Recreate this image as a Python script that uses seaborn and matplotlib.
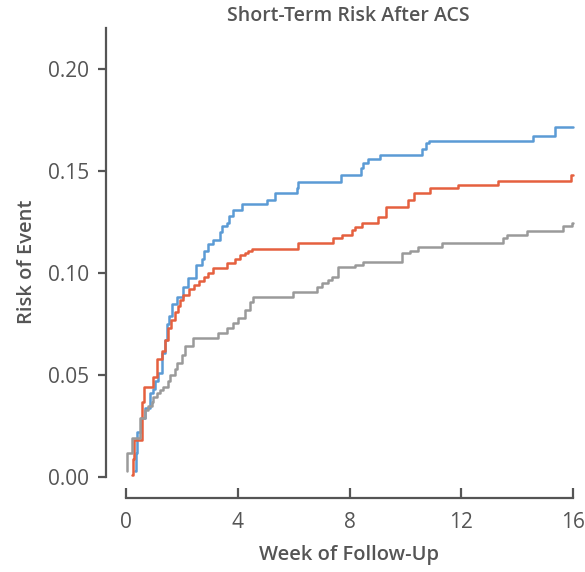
import numpy as np
import pandas as pd
import matplotlib
matplotlib.use("Agg")
import matplotlib.pyplot as plt
import seaborn as sns

# ---- data ----
blue_weeks = [0.32, 0.34, 0.40, 0.52, 0.68, 0.86, 0.97, 1.04, 1.14, 1.28, 1.30, 1.40, 1.46, 1.54,
              1.65, 1.83, 2.05, 2.22, 2.50, 2.72, 2.80, 2.93, 3.10, 3.36, 3.43, 3.61, 3.68, 3.83,
              4.15, 5.05, 5.33, 6.13, 6.16, 7.70, 8.40, 8.50, 8.66, 9.09, 10.60, 10.75, 10.85,
              14.57, 15.35, 16.0]
blue_risk = [0.003, 0.012, 0.022, 0.029, 0.034, 0.041, 0.043, 0.047, 0.051, 0.056, 0.061, 0.067,
             0.075, 0.079, 0.085, 0.088, 0.093, 0.0975, 0.104, 0.107, 0.111, 0.114, 0.116, 0.120,
             0.123, 0.1245, 0.128, 0.131, 0.134, 0.136, 0.139, 0.1415, 0.1446, 0.148, 0.1515,
             0.154, 0.156, 0.158, 0.161, 0.1635, 0.1645, 0.167, 0.1716, 0.1716]

red_weeks = [0.20, 0.25, 0.30, 0.56, 0.64, 0.97, 1.11, 1.30, 1.40, 1.50, 1.62, 1.75, 1.86, 1.93,
             2.05, 2.25, 2.43, 2.62, 2.80, 2.93, 3.11, 3.61, 3.90, 4.08, 4.26, 4.37, 4.50, 6.16,
             7.41, 7.73, 8.09, 8.20, 8.45, 9.02, 9.30, 10.10, 10.30, 10.88, 11.88, 13.31, 15.93,
             16.0]
red_risk = [0.001, 0.009, 0.018, 0.037, 0.044, 0.049, 0.058, 0.062, 0.067, 0.073, 0.077, 0.081,
            0.084, 0.087, 0.089, 0.092, 0.094, 0.096, 0.098, 0.100, 0.1025, 0.105, 0.107, 0.109,
            0.110, 0.111, 0.112, 0.1147, 0.117, 0.1186, 0.121, 0.1225, 0.1245, 0.1276, 0.1325,
            0.1358, 0.139, 0.1417, 0.143, 0.145, 0.148, 0.148]

gray_weeks = [0.04, 0.05, 0.21, 0.50, 0.68, 0.79, 0.93, 0.97, 1.11, 1.22, 1.32, 1.50, 1.57, 1.75,
              1.83, 2.00, 2.11, 2.40, 3.29, 3.61, 3.83, 4.00, 4.26, 4.44, 4.55, 5.99, 6.84, 7.00,
              7.23, 7.37, 7.59, 8.20, 8.48, 9.88, 10.16, 10.45, 11.31, 13.49, 13.64, 14.35, 15.64,
              15.97, 16.0]
gray_risk = [0.003, 0.012, 0.019, 0.029, 0.033, 0.035, 0.037, 0.039, 0.041, 0.0425, 0.044, 0.047,
             0.050, 0.053, 0.056, 0.060, 0.064, 0.068, 0.0706, 0.073, 0.0755, 0.078, 0.082, 0.086,
             0.088, 0.0907, 0.093, 0.095, 0.0966, 0.098, 0.103, 0.104, 0.1054, 0.110, 0.111,
             0.1127, 0.1147, 0.117, 0.1186, 0.1206, 0.123, 0.1245, 0.1245]

groups = ["Group 1", "Group 2", "Group 3"]
colors = ["#5B9BD5", "#E5603F", "#9A9A9A"]
x_ticks = [0, 4, 8, 12, 16]
y_ticks = [0.00, 0.05, 0.10, 0.15, 0.20]
y_tick_labels = ["0.00", "0.05", "0.10", "0.15", "0.20"]

df = pd.concat([
    pd.DataFrame({"week": blue_weeks, "risk": blue_risk, "group": groups[0]}),
    pd.DataFrame({"week": red_weeks, "risk": red_risk, "group": groups[1]}),
    pd.DataFrame({"week": gray_weeks, "risk": gray_risk, "group": groups[2]}),
], ignore_index=True)

sns.set_theme(style="white")
plt.rcParams["font.family"] = ["Open Sans", "DejaVu Sans"]

W, H = 585, 572
fig = plt.figure(figsize=(W / 100, H / 100), dpi=100)
ax = fig.add_axes([106 / W, (H - 498) / H, (573 - 106) / W, (498 - 28) / H])

sns.lineplot(data=df, x="week", y="risk", hue="group", hue_order=groups,
             palette=colors, drawstyle="steps-post", estimator=None, sort=False,
             linewidth=1.8, legend=False, ax=ax)
for line in ax.get_lines():
    line.set_clip_on(False)

ax.set_xlim(-0.716, 16)
ax.set_ylim(-0.0103, 0.2201)

spine_col = "#555555"
for s in ["top", "right"]:
    ax.spines[s].set_visible(False)
for s in ["left", "bottom"]:
    ax.spines[s].set_color(spine_col)
    ax.spines[s].set_linewidth(1.6)
ax.spines["left"].set_bounds(0, 0.2201)
ax.spines["bottom"].set_bounds(0, 16)

ax.set_xticks(x_ticks)
ax.set_xticklabels([str(t) for t in x_ticks])
ax.set_yticks(y_ticks)
ax.set_yticklabels(y_tick_labels)
ax.tick_params(axis="x", direction="in", length=7, width=1.6, color=spine_col,
               labelsize=15, labelcolor="#555555", pad=10, bottom=True)
ax.tick_params(axis="y", direction="out", length=6, width=1.6, color=spine_col,
               labelsize=15, labelcolor="#555555", pad=6, left=True)

ax.set_xlabel("")
ax.set_ylabel("")
fig.text(349 / W, 1 - 555 / H, "Week of Follow-Up", ha="center", va="center",
         fontsize=14.5, fontweight="semibold", color="#555555")
fig.text(27 / W, 1 - 262 / H, "Risk of Event", ha="center", va="center", rotation=90,
         fontsize=14.5, fontweight="semibold", color="#555555")
fig.text(348 / W, 1 - 16 / H, "Short-Term Risk After ACS", ha="center", va="center",
         fontsize=14, fontweight="semibold", color="#555555")

fig.savefig("out.png", dpi=100)
